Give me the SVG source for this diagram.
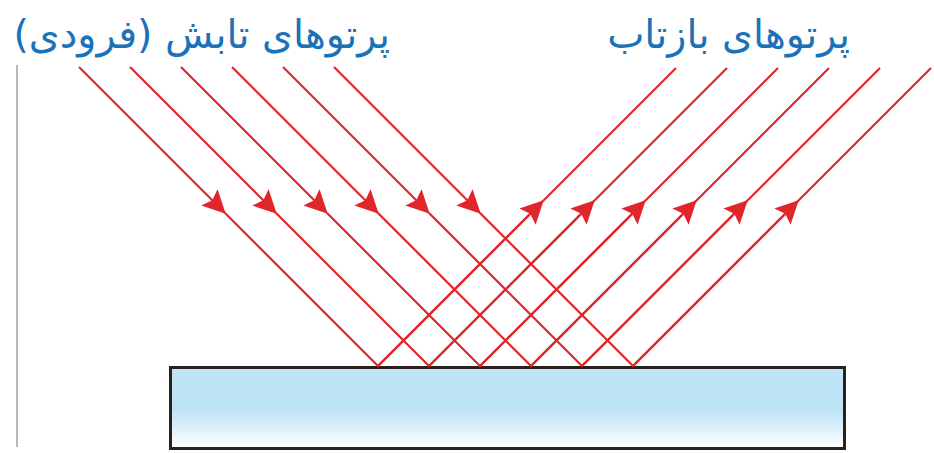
<svg xmlns="http://www.w3.org/2000/svg" width="934" height="453" viewBox="0 0 934 453">
<style>
.ray{stroke:#e0262a;stroke-width:2.2;fill:none}
.lbl{font-family:"DejaVu Sans","Noto Sans",sans-serif;font-size:39.5px;fill:#1b72b8;direction:rtl;text-anchor:start}
</style>
<defs>
<marker id="arr" markerUnits="userSpaceOnUse" markerWidth="26" markerHeight="26" viewBox="-24 -13 26 26" refX="0" refY="0" orient="auto">
<path d="M1,0 L-22,-11.5 L-18,0 L-22,11.5 z" fill="#e0262a"/>
</marker>
<linearGradient id="glass" x1="0" y1="0" x2="0" y2="1">
<stop offset="0" stop-color="#c0e5f8"/>
<stop offset="0.5" stop-color="#bce2f6"/>
<stop offset="1" stop-color="#ffffff"/>
</linearGradient>
</defs>
<g id="label-incident"><text class="lbl" x="390" y="48">پرتوهای تابش (فرودی)</text></g>
<g id="label-reflected"><text class="lbl" x="850" y="48">پرتوهای بازتاب</text></g>
<g id="axis"><line x1="17" y1="65" x2="17" y2="447" stroke="#888" stroke-width="1.2"/></g>
<g id="mirror"><rect x="170.5" y="367.5" width="674" height="81" fill="url(#glass)" stroke="#2b2118" stroke-width="3"/></g>
<g id="connectors">
<path class="ray" d="M79,67 L225,213" marker-end="url(#arr)"/><path class="ray" d="M225,213 L378,366 L543,201"/><path class="ray" d="M378,366 L543,201" marker-end="url(#arr)"/><path class="ray" d="M543,201 L676,68"/>
<path class="ray" d="M130,67 L276,213" marker-end="url(#arr)"/><path class="ray" d="M276,213 L429,366 L594,201"/><path class="ray" d="M429,366 L594,201" marker-end="url(#arr)"/><path class="ray" d="M594,201 L727,68"/>
<path class="ray" d="M181,67 L327,213" marker-end="url(#arr)"/><path class="ray" d="M327,213 L480,366 L645,201"/><path class="ray" d="M480,366 L645,201" marker-end="url(#arr)"/><path class="ray" d="M645,201 L778,68"/>
<path class="ray" d="M232,67 L378,213" marker-end="url(#arr)"/><path class="ray" d="M378,213 L531,366 L696,201"/><path class="ray" d="M531,366 L696,201" marker-end="url(#arr)"/><path class="ray" d="M696,201 L829,68"/>
<path class="ray" d="M283,67 L429,213" marker-end="url(#arr)"/><path class="ray" d="M429,213 L582,366 L747,201"/><path class="ray" d="M582,366 L747,201" marker-end="url(#arr)"/><path class="ray" d="M747,201 L880,68"/>
<path class="ray" d="M334,67 L480,213" marker-end="url(#arr)"/><path class="ray" d="M480,213 L633,366 L798,201"/><path class="ray" d="M633,366 L798,201" marker-end="url(#arr)"/><path class="ray" d="M798,201 L931,68"/>
</g>
</svg>
